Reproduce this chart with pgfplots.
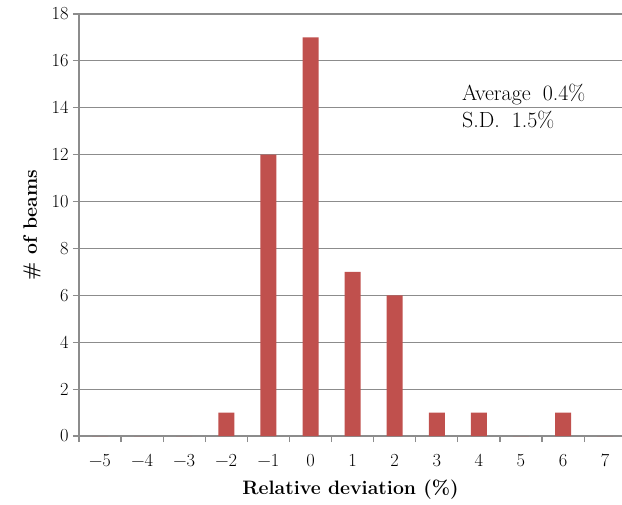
\documentclass[border=0pt]{standalone}
\usepackage{fontspec}
\setmainfont{Latin Modern Roman}
\usepackage{pgfplots}
\pgfplotsset{compat=1.18}
\definecolor{barred}{HTML}{C0504D}
\definecolor{gridgray}{HTML}{8C8C8C}
\newcommand{\tf}{\fontsize{18.5}{20}\selectfont}
\begin{document}
\begin{tikzpicture}
\path[use as bounding box] (-79bp,-69bp) rectangle (543bp,436bp);
\begin{axis}[
  at={(0,0)}, anchor=south west,
  scale only axis,
  width=543bp, height=422bp,
  xmin=-5.5, xmax=7.4,
  ymin=0, ymax=18,
  axis x line=bottom, axis y line=left,
  axis line style={gridgray, line width=1.2bp, -},
  ymajorgrids, grid style={gridgray, line width=1.2bp},
  xtick={-5,...,7},
  xticklabels={{\tf −5},{\tf −4},{\tf −3},{\tf −2},{\tf −1},{\tf 0},{\tf 1},{\tf 2},{\tf 3},{\tf 4},{\tf 5},{\tf 6},{\tf 7}},
  minor xtick={-5.5,-4.5,...,6.5},
  ytick={0,2,...,18},
  yticklabels={{\tf 0},{\tf 2},{\tf 4},{\tf 6},{\tf 8},{\tf 10},{\tf 12},{\tf 14},{\tf 16},{\tf 18}},
  major x tick style={draw=none},
  minor tick style={gridgray, line width=1.2bp},
  major y tick style={gridgray, line width=1.2bp},
  tick align=outside,
  major tick length=6bp, minor tick length=6bp,
  every tick label/.append style={font=\tf},
  yticklabel style={xshift=-1bp},
  xticklabel style={yshift=-9bp},
  xlabel={\bfseries Relative deviation (\%)},
  ylabel={\bfseries \# of beams},
  label style={font=\fontsize{19.5}{22}\selectfont},
  xlabel shift=6bp,
  ylabel shift=4bp,
  clip=false,
]
\addplot[ybar, bar width=0.38, fill=barred, draw=none] coordinates {
  (-5,0) (-4,0) (-3,0) (-2,1) (-1,12) (0,17) (1,7) (2,6) (3,1) (4,1) (5,0) (6,1) (7,0)
};
\node[anchor=base west, inner sep=0pt, font=\fontsize{22}{24}\selectfont] at (axis cs:3.597,14.33) {Average\hspace{0.55em}0.4\%};
\node[anchor=base west, inner sep=0pt, font=\fontsize{22}{24}\selectfont] at (axis cs:3.597,13.14) {S.D.\hspace{0.55em}1.5\%};
\end{axis}
\end{tikzpicture}
\end{document}
